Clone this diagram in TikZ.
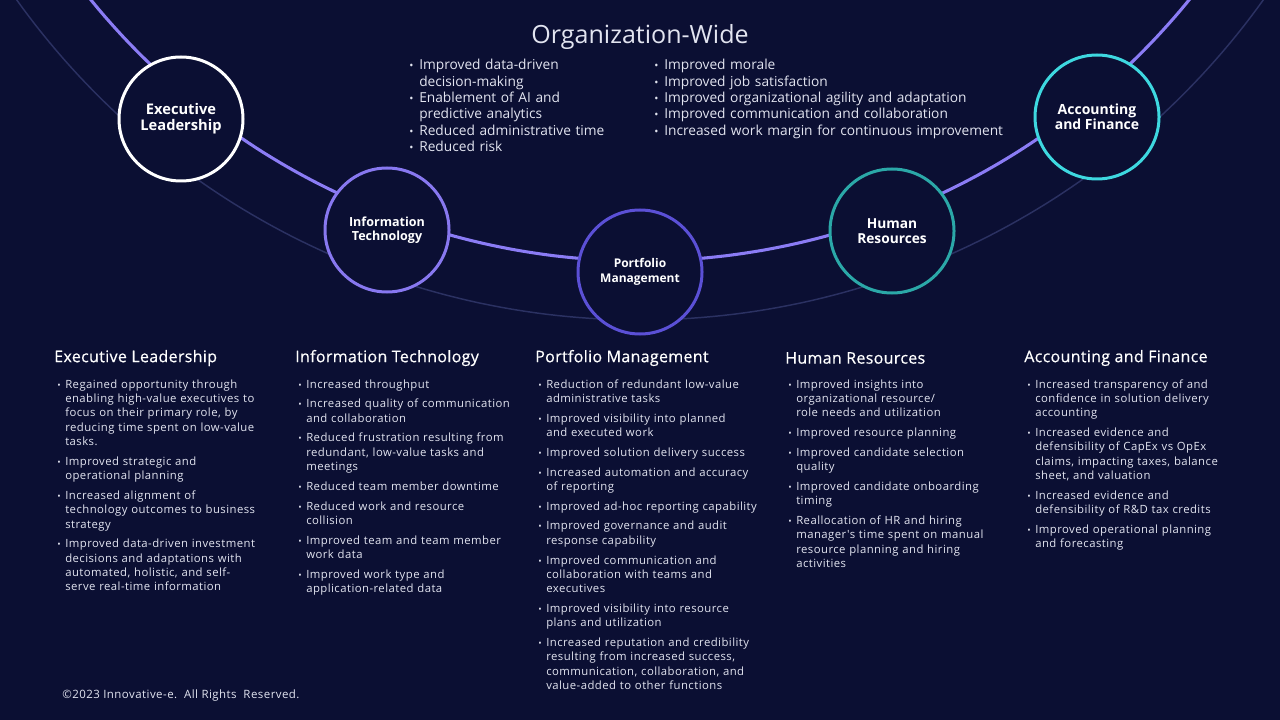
\documentclass[tikz,border=0pt]{standalone}
\usepackage{fontspec}
\setmainfont{Open Sans}
\newfontfamily\colfont{Open Sans}[LetterSpace=4.0]
\newfontfamily\headfont{Open Sans}[LetterSpace=2.0, FakeBold=0.5]
\usepackage{xcolor}
\usepackage{tikz}
\usetikzlibrary{positioning}

\definecolor{bgnavy}{HTML}{0B0F33}
\definecolor{arclav}{HTML}{8B7CF5}
\definecolor{arcfaint}{HTML}{2B3162}
\definecolor{itlav}{HTML}{8878F0}
\definecolor{pmblue}{HTML}{5B50D6}
\definecolor{hrteal}{HTML}{2BA8A8}
\definecolor{afcyan}{HTML}{3ED8E0}
\definecolor{bodytxt}{HTML}{E2E4F0}

\newlength{\bulw}
\setlength{\bulw}{6pt}
\newcommand{\nl}{\hfil\break}
\newcommand{\itm}[1]{\par\hangindent=\bulw\hangafter=1\noindent\makebox[\bulw][l]{\scalebox{0.8}{\textbullet}}#1\par}

\begin{document}
\begin{tikzpicture}[x={(0.75pt,0)}, y={(0,-0.75pt)},
  dept/.style={circle, draw, line width=2.25pt, fill=bgnavy, minimum size=93pt,
             inner sep=0pt, align=center, text=white},
  head/.style={anchor=west, inner sep=0pt, text=white,
             font=\headfont\fontsize{12}{14}\selectfont},
  col/.style={anchor=north west, inner sep=0pt, text width=180pt, align=left,
             text=bodytxt,
             font=\colfont\fontsize{8.5}{10.77}\selectfont\setlength{\parskip}{4.05pt}},
  orgl/.style={anchor=north west, inner sep=0pt, text width=300pt, align=left,
             text=bodytxt,
             font=\fontsize{10.3}{12.3}\selectfont\setlength{\parskip}{0pt}\setlength{\bulw}{7.5pt}},
]
\fill[bgnavy] (0,0) rectangle (1280,720);
\useasboundingbox (0,0) rectangle (1280,720);

% ---- arcs ----
\begin{scope}
  \clip (0,0) rectangle (1280,720);
  \draw[arcfaint, line width=1.1pt] plot[domain=28:152, samples=150]
    ({640+767*cos(\x)}, {-447+767*sin(\x)});
  \draw[arclav, line width=2.3pt] plot[domain=35:145, samples=150]
    ({640+708*cos(\x)}, {-447+708*sin(\x)});
\end{scope}

% ---- departments ----
\node[dept, draw=white, font=\bfseries\fontsize{11}{12}\selectfont]
  (exec) at (181,119) {Executive\\Leadership};
\node[dept, draw=itlav, font=\bfseries\fontsize{9.4}{10.5}\selectfont]
  (it) at (387,230) {Information\\Technology};
\node[dept, draw=pmblue, font=\bfseries\fontsize{9}{11.2}\selectfont]
  (pm) at (640,272) {Portfolio\\Management};
\node[dept, draw=hrteal, font=\bfseries\fontsize{10.3}{11.2}\selectfont]
  (hr) at (892,231) {Human\\Resources};
\node[dept, draw=afcyan, font=\bfseries\fontsize{10.5}{11.2}\selectfont]
  (af) at (1097,117) {Accounting\\and Finance};

% ---- organization-wide ----
\node[text=bodytxt, font=\fontsize{18.8}{20}\selectfont] (orgtitle) at (640,37) {Organization-Wide};
\node[orgl] (orgleft) at (409,53) {%
  \itm{Improved data-driven\nl decision-making}
  \itm{Enablement of AI and\nl predictive analytics}
  \itm{Reduced administrative time}
  \itm{Reduced risk}};
\node[orgl] (orgright) at (654,53) {%
  \itm{Improved morale}
  \itm{Improved job satisfaction}
  \itm{Improved organizational agility and adaptation}
  \itm{Improved communication and collaboration}
  \itm{Increased work margin for continuous improvement}};

% ---- column headings ----
\node[head] (hexec) at (54,358)   {Executive Leadership};
\node[head] (hit)   at (295,358)  {Information Technology};
\node[head] (hpm)   at (535,358)  {Portfolio Management};
\node[head] (hhr)   at (785,358)  {Human Resources};
\node[head] (haf)   at (1024,358) {Accounting and Finance};

% ---- column lists ----
\node[col] (lexec) at (57,368) {%
  \itm{Regained opportunity through\nl enabling high-value executives to\nl focus on their primary role, by\nl reducing time spent on low-value\nl tasks.}
  \itm{Improved strategic and\nl operational planning}
  \itm{Increased alignment of\nl technology outcomes to business\nl strategy}
  \itm{Improved data-driven investment\nl decisions and adaptations with\nl automated, holistic, and self-\nl serve real-time information}};
\node[col] (lit) at (298,368) {%
  \itm{Increased throughput}
  \itm{Increased quality of communication\nl and collaboration}
  \itm{Reduced frustration resulting from\nl redundant, low-value tasks and\nl meetings}
  \itm{Reduced team member downtime}
  \itm{Reduced work and resource\nl collision}
  \itm{Improved team and team member\nl work data}
  \itm{Improved work type and\nl application-related data}};
\node[col] (lpm) at (538,368) {%
  \itm{Reduction of redundant low-value\nl administrative tasks}
  \itm{Improved visibility into planned\nl and executed work}
  \itm{Improved solution delivery success}
  \itm{Increased automation and accuracy\nl of reporting}
  \itm{Improved ad-hoc reporting capability}
  \itm{Improved governance and audit\nl response capability}
  \itm{Improved communication and\nl collaboration with teams and\nl executives}
  \itm{Improved visibility into resource\nl plans and utilization}
  \itm{Increased reputation and credibility\nl resulting from increased success,\nl communication, collaboration, and\nl value-added to other functions}};
\node[col] (lhr) at (788,368) {%
  \itm{Improved insights into\nl organizational resource/\nl role needs and utilization}
  \itm{Improved resource planning}
  \itm{Improved candidate selection\nl quality}
  \itm{Improved candidate onboarding\nl timing}
  \itm{Reallocation of HR and hiring\nl manager's time spent on manual\nl resource planning and hiring\nl activities}};
\node[col] (laf) at (1027,368) {%
  \itm{Increased transparency of and\nl confidence in solution delivery\nl accounting}
  \itm{Increased evidence and\nl defensibility of CapEx vs OpEx\nl claims, impacting taxes, balance\nl sheet, and valuation}
  \itm{Increased evidence and\nl defensibility of R\&D tax credits}
  \itm{Improved operational planning\nl and forecasting}};

% ---- footer ----
\node[anchor=west, inner sep=0pt, text=bodytxt, font=\colfont\fontsize{8.6}{10}\selectfont]
  (copy) at (62,696) {©2023 Innovative-e.\ \ All Rights\ \ Reserved.};

\end{tikzpicture}
\end{document}
